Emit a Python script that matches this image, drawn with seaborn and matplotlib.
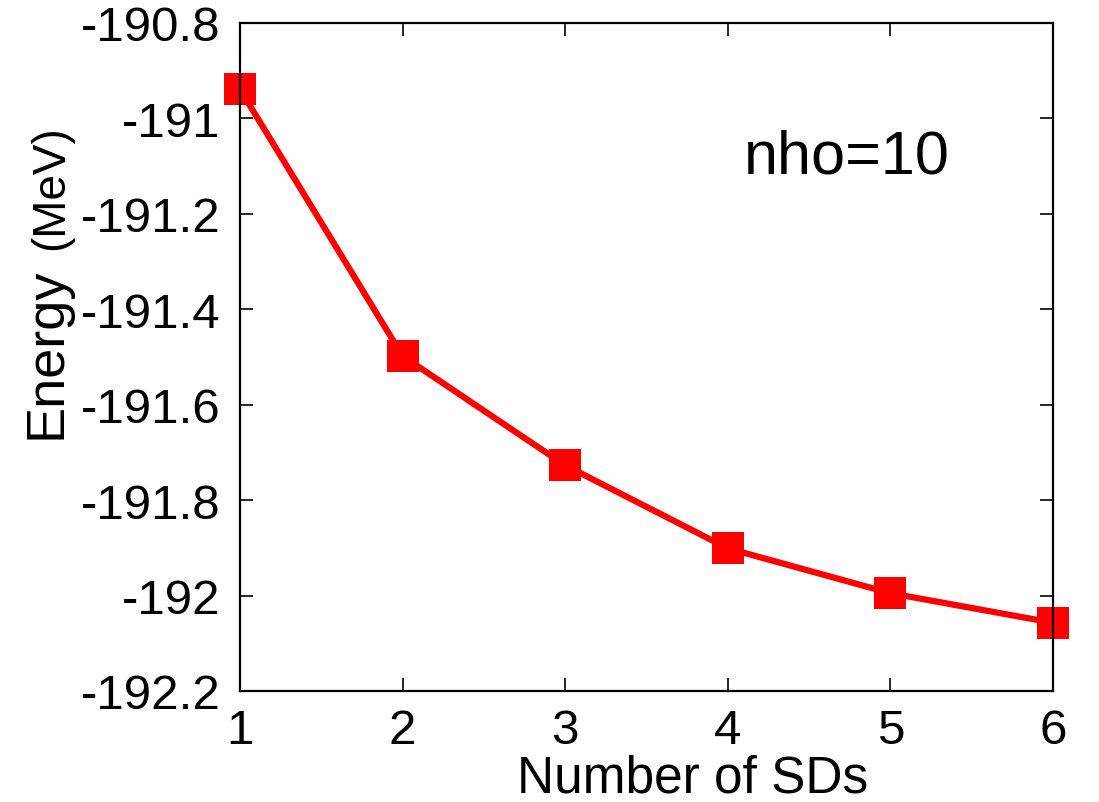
import matplotlib
matplotlib.use("Agg")
import matplotlib.pyplot as plt
import seaborn as sns
import pandas as pd

num_sds = [1, 2, 3, 4, 5, 6]
energy = [-190.939, -191.498, -191.727, -191.901, -191.995, -192.057]
x_ticks = [1, 2, 3, 4, 5, 6]
y_ticks = [-190.8, -191.0, -191.2, -191.4, -191.6, -191.8, -192.0, -192.2]
y_tick_labels = ["-190.8", "-191", "-191.2", "-191.4", "-191.6", "-191.8", "-192", "-192.2"]

sns.set_style("ticks")
plt.rcParams["font.family"] = ["Liberation Sans", "DejaVu Sans"]
plt.rcParams["text.color"] = "black"
plt.rcParams["xtick.color"] = "black"
plt.rcParams["ytick.color"] = "black"
plt.rcParams["axes.labelcolor"] = "black"

df = pd.DataFrame({"n": num_sds, "E": energy})

fig = plt.figure(figsize=(10.99, 8.03), dpi=100)
ax = fig.add_axes([240 / 1099, 111 / 803, 813 / 1099, 668 / 803])

sns.lineplot(data=df, x="n", y="E", ax=ax, color="#ff0000", linewidth=4.5,
             marker="s", markersize=22.5, markeredgewidth=0, clip_on=False)

ax.set_xlim(1, 6)
ax.set_ylim(-192.2, -190.8)
ax.set_xticks(x_ticks)
ax.set_xticklabels([str(v) for v in x_ticks])
ax.set_yticks(y_ticks)
ax.set_yticklabels(y_tick_labels)

for s in ax.spines.values():
    s.set_visible(True)
    s.set_linewidth(1.6)
    s.set_color("black")

ax.tick_params(axis="both", which="major", direction="in", length=9.5, width=1.2,
               top=True, right=True, labelsize=35.5, colors="black",
               labelcolor="black")
ax.tick_params(axis="x", pad=12)
ax.tick_params(axis="y", pad=14)

ax.set_xlabel("")
ax.set_ylabel("")
fig.text(693 / 1099, 1 - 793 / 803, "Number of SDs", fontsize=37, color="black",
         ha="center", va="baseline")

fig.text(61 / 1099, 1 - 439 / 803, "Energy", fontsize=39, rotation=90, color="black",
         rotation_mode="anchor", ha="left", va="baseline")
fig.text(63 / 1099, 1 - 250 / 803, "(MeV)", fontsize=33, rotation=90, color="black",
         rotation_mode="anchor", ha="left", va="baseline")

fig.text(744 / 1099, 1 - 173 / 803, "nho=10", fontsize=44, color="black",
         ha="left", va="baseline")

fig.savefig("out.png", dpi=100)
